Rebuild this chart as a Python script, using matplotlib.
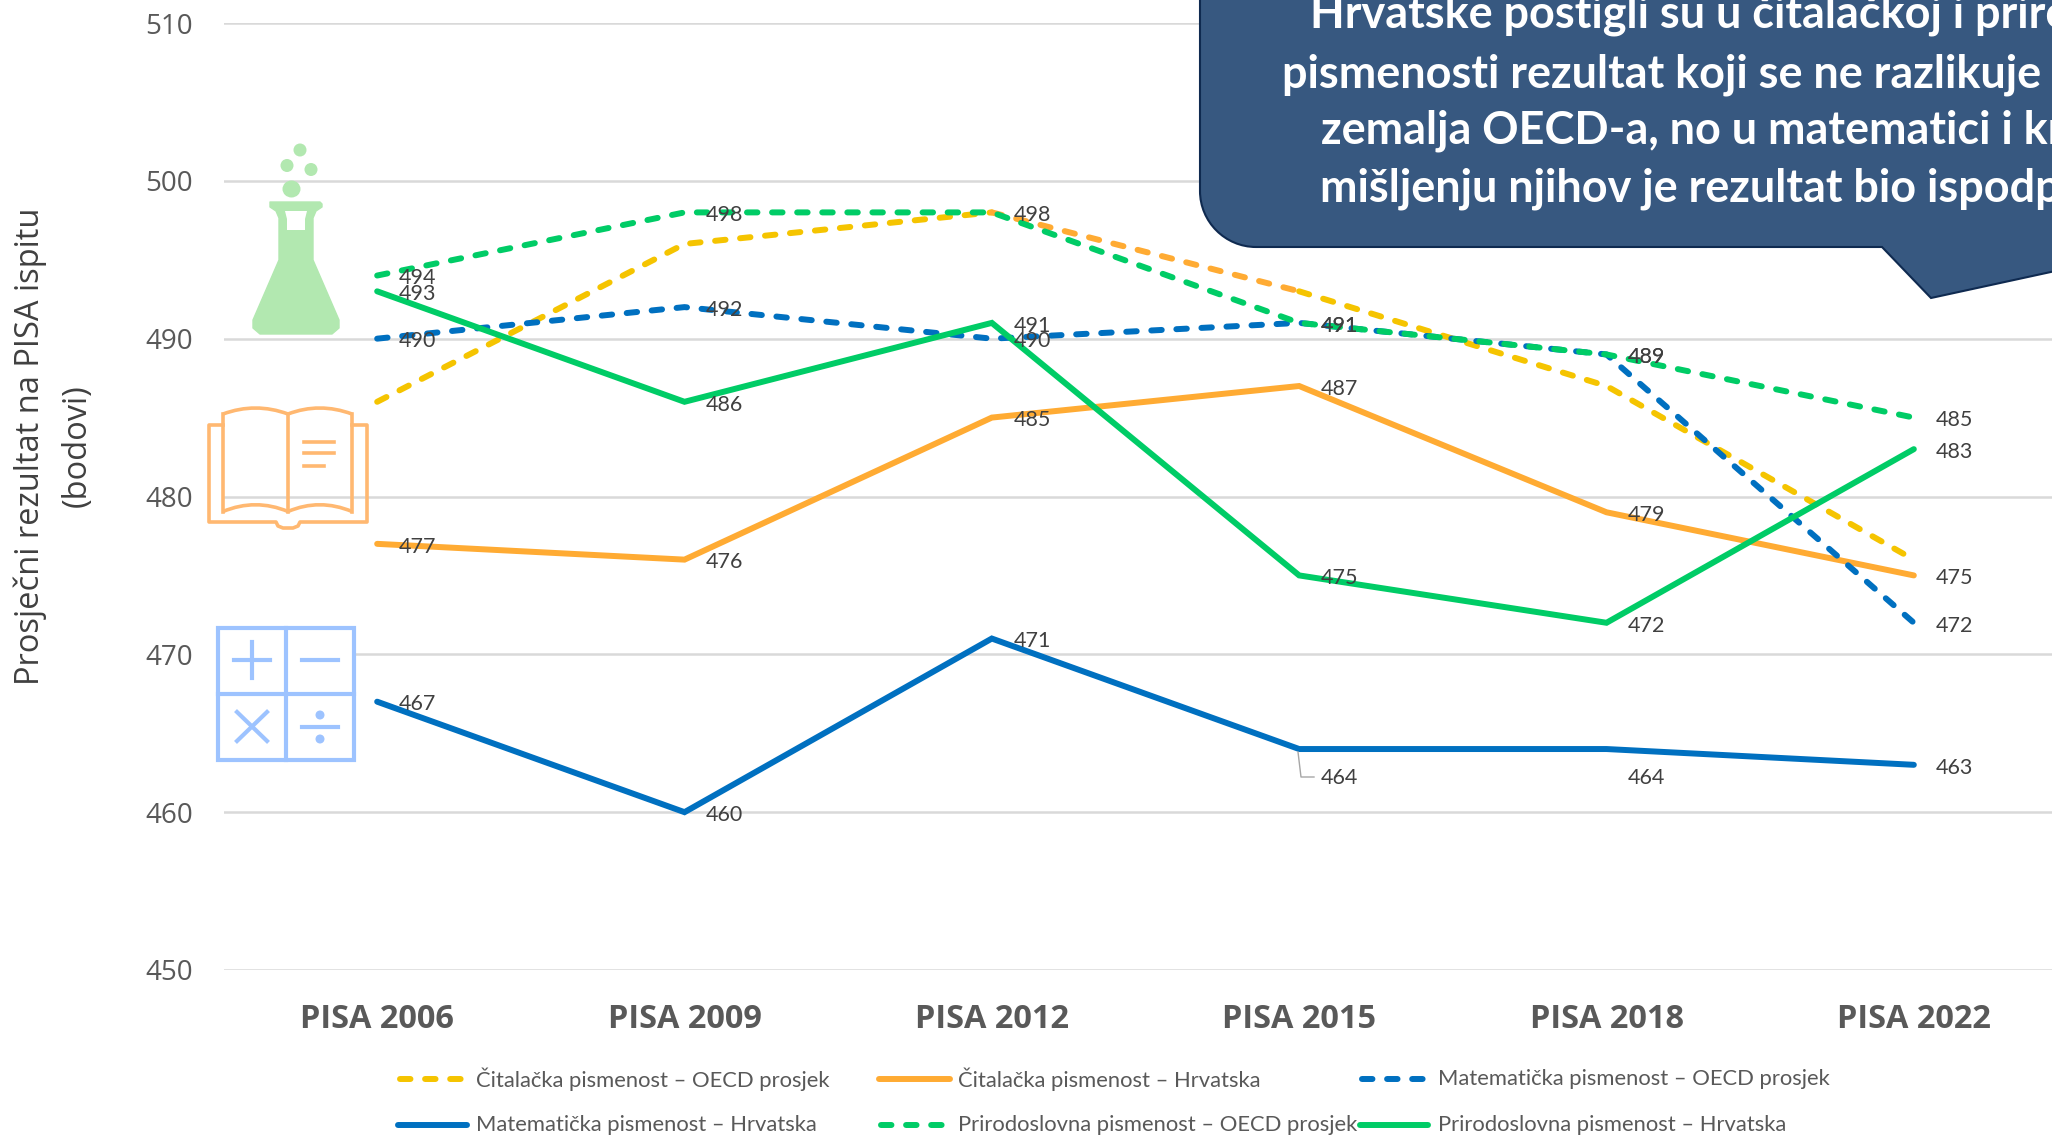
#!/usr/bin/env python3
import matplotlib
matplotlib.use("Agg")
import matplotlib.pyplot as plt
from matplotlib.lines import Line2D
from matplotlib.patches import Circle, Ellipse, PathPatch, Polygon, Rectangle
from matplotlib.path import Path

W, H = 2052, 1135
plt.rcParams["font.family"] = ["Open Sans", "DejaVu Sans"]

years = ["PISA 2006", "PISA 2009", "PISA 2012", "PISA 2015", "PISA 2018", "PISA 2022"]
y_ticks = [450, 460, 470, 480, 490, 500, 510]

citanje_oecd = [486, 496, 498, 493, 487, 476]
citanje_hr = [477, 476, 485, 487, 479, 475]
mat_oecd = [490, 492, 490, 491, 489, 472]
mat_hr = [467, 460, 471, 464, 464, 463]
prirodo_oecd = [494, 498, 498, 491, 489, 485]
prirodo_hr = [493, 486, 491, 475, 472, 483]

YELLOW = "#F5C400"
ORANGE = "#FFAB33"
BLUE = "#0070C0"
GREEN = "#00CC66"
GREY = "#595959"
DARK = "#404040"

# name, values, colour, dashed, show data labels
series = [
    ("Čitalačka pismenost – OECD prosjek", citanje_oecd, YELLOW, True, False),
    ("Čitalačka pismenost – Hrvatska", citanje_hr, ORANGE, False, True),
    ("Matematička pismenost – OECD prosjek", mat_oecd, BLUE, True, True),
    ("Matematička pismenost – Hrvatska", mat_hr, BLUE, False, True),
    ("Prirodoslovna pismenost – OECD prosjek", prirodo_oecd, GREEN, True, True),
    ("Prirodoslovna pismenost – Hrvatska", prirodo_hr, GREEN, False, True),
]

callout_lines = [
    "Hrvatske postigli su u čitalačkoj i prirodoslovnoj",
    "pismenosti rezultat koji se ne razlikuje od prosjeka",
    "zemalja OECD-a, no u matematici i kritičkom",
    "mišljenju njihov je rezultat bio ispodprosječan.",
]

LW = 4.3
DASH = (0, (1.75, 2.45))

fig = plt.figure(figsize=(W / 100, H / 100), dpi=100, facecolor="white")

# the plot runs on past the right edge of the picture
left, right, top, bottom = 223.5, 2067.5, 23, 970
ax = fig.add_axes([left / W, 1 - bottom / H, (right - left) / W, (bottom - top) / H])
ax.set_xlim(-0.5, 5.5)
ax.set_ylim(450, 510)
ax.set_yticks(y_ticks)
ax.set_xticks(range(len(years)))
ax.set_xticklabels(years, fontsize=23.4, fontweight="bold", color=GREY)
ax.tick_params(axis="both", length=0)
ax.tick_params(axis="x", pad=24)
ax.tick_params(axis="y", pad=22, labelsize=20, labelcolor=GREY)
ax.grid(axis="y", color="#D9D9D9", lw=1.8)
ax.set_axisbelow(True)
for s in ax.spines.values():
    s.set_visible(False)
ax.patch.set_alpha(0)

xs = list(range(len(years)))
for name, vals, col, dashed, labelled in series:
    if vals is citanje_oecd:
        # the 2012-2015 stretch of this line is orange in the source chart
        for a, b, c in [(0, 3, col), (2, 4, ORANGE), (3, 6, col)]:
            ax.plot(xs[a:b], vals[a:b], color=c, lw=LW, ls=DASH, dash_capstyle="round", zorder=3)
    elif dashed:
        ax.plot(xs, vals, color=col, lw=LW, ls=DASH, dash_capstyle="round", zorder=3)
    else:
        ax.plot(xs, vals, color=col, lw=LW, solid_capstyle="round", solid_joinstyle="miter", zorder=3)

for name, vals, col, dashed, labelled in series:
    if not labelled:
        continue
    for i, v in enumerate(vals):
        dy = -2
        if vals is mat_hr and years[i] in ("PISA 2015", "PISA 2018"):
            dy = -21
        ax.annotate(str(v), (i, v), xytext=(15.5, dy), textcoords="offset points",
                    va="center", ha="left", fontsize=15.5, color=DARK, family="Lato", zorder=6)

# overlay in picture pixels for callout, icons and legend
ov = fig.add_axes([0, 0, 1, 1])
ov.set_xlim(0, W)
ov.set_ylim(H, 0)
ov.axis("off")
ov.patch.set_alpha(0)

ov.plot([1298, 1301, 1314], [752, 777, 777], color="#A6A6A6", lw=1)

# y axis title
ov.text(30, 446, "Prosječni rezultat na PISA ispitu", rotation=90, ha="center", va="center",
        fontsize=23.5, color=DARK)
ov.text(77, 446, "(bodovi)", rotation=90, ha="center", va="center", fontsize=23.5, color=DARK)

# callout box
r = 56
verts = [(1200, -20), (1200, 247 - r), (1200, 247 - 0.45 * r), (1200 + 0.45 * r, 247), (1200 + r, 247),
         (1882, 247), (1931, 298), (2060, 270), (2060, -20), (1200, -20)]
codes = [Path.MOVETO, Path.LINETO, Path.CURVE4, Path.CURVE4, Path.CURVE4,
         Path.LINETO, Path.LINETO, Path.LINETO, Path.LINETO, Path.CLOSEPOLY]
ov.add_patch(PathPatch(Path(verts, codes), facecolor="#375880", edgecolor="#0F2A50", lw=1.5, zorder=7))
line_pos = [(1310, 28), (1282, 87), (1321, 144), (1320, 201)]
for txt, (tx, ty) in zip(callout_lines, line_pos):
    ov.text(tx, ty, txt, ha="left", va="baseline", fontsize=32.4, fontweight="bold",
            color="white", family="Lato", zorder=8)

# flask icon
FLASK = "#B2E8B0"
flask_pts = [(270, 202), (320, 202), (322, 204), (322, 207), (316, 211), (313, 218), (313, 260),
             (339, 320), (339, 328), (332, 334), (260, 334), (253, 328), (253, 320), (279, 260),
             (279, 218), (276, 211), (270, 207), (270, 204)]
ov.add_patch(Polygon(flask_pts, closed=True, facecolor=FLASK, edgecolor=FLASK, lw=1, joinstyle="round", zorder=4))
ov.add_patch(Polygon([(285, 211), (307, 211), (305, 219), (305, 230), (287, 230), (287, 219)],
                     closed=True, facecolor="white", edgecolor="none", zorder=5))
for cx, cy, rx, ry in [(291.5, 189, 9, 8.5), (287, 165.5, 6.5, 6.5), (311, 169.5, 6.5, 6.5), (300, 150, 6.5, 6.5)]:
    ov.add_patch(Ellipse((cx, cy), 2 * rx, 2 * ry, facecolor=FLASK, edgecolor="none", zorder=4))

# book icon
BOOK = "#FFB871"
blw = 2.6
ov.plot([223, 209, 209, 276, 278, 283, 293, 298, 300, 367, 367, 352],
        [425, 425, 522, 522, 526, 528, 528, 526, 522, 522, 425, 425],
        color=BOOK, lw=blw, solid_joinstyle="round", zorder=4)
for x0, x1, xm in [(223, 288, 255.5), (352, 288, 319.5)]:
    ov.add_patch(PathPatch(Path([(x0, 414), (xm, 402), (x1, 414)], [Path.MOVETO, Path.CURVE3, Path.CURVE3]),
                           fill=False, edgecolor=BOOK, lw=blw, zorder=4))
    ov.add_patch(PathPatch(Path([(x0, 511.5), (xm, 498), (x1, 511.5)], [Path.MOVETO, Path.CURVE3, Path.CURVE3]),
                           fill=False, edgecolor=BOOK, lw=blw, zorder=4))
for x in (223, 288, 352):
    ov.plot([x, x], [414, 511.5], color=BOOK, lw=blw, zorder=4)
ov.plot([304, 334], [441.5, 441.5], color=BOOK, lw=blw, zorder=4)
ov.plot([304, 334], [453, 453], color=BOOK, lw=blw, zorder=4)
ov.plot([304, 324], [465.5, 465.5], color=BOOK, lw=blw, zorder=4)

# calculator icon
CALC = "#9DC3FF"
clw = 3
ov.add_patch(Rectangle((218, 628), 136, 132, facecolor="white", edgecolor=CALC, lw=clw, zorder=4))
ov.plot([286, 286], [628, 760], color=CALC, lw=clw, zorder=5)
ov.plot([218, 354], [694, 694], color=CALC, lw=clw, zorder=5)
ov.plot([234, 270], [660, 660], color=CALC, lw=clw, zorder=5)
ov.plot([252, 252], [642, 678], color=CALC, lw=clw, zorder=5)
ov.plot([302, 338], [660, 660], color=CALC, lw=clw, zorder=5)
ov.plot([237, 267], [712, 741], color=CALC, lw=clw, zorder=5)
ov.plot([237, 267], [741, 712], color=CALC, lw=clw, zorder=5)
ov.plot([302, 338], [727, 727], color=CALC, lw=clw, zorder=5)
ov.add_patch(Circle((320, 715), 3.8, color=CALC, zorder=5))
ov.add_patch(Circle((320, 739), 3.8, color=CALC, zorder=5))

# legend, three columns and two rows
leg_x = [(400, 465, 476), (881, 948, 958), (1362, 1426, 1438)]
leg_y = [1079, 1125]
for k, (name, vals, col, dashed, labelled) in enumerate(series):
    x0, x1, tx = leg_x[k % 3]
    ly = leg_y[k // 3]
    if dashed:
        ov.add_line(Line2D([x0, x1], [ly, ly], color=col, lw=LW, ls=DASH, dash_capstyle="round"))
    else:
        ov.add_line(Line2D([x0 - 2, x1 + 2], [ly, ly], color=col, lw=LW, solid_capstyle="round"))
    ov.text(tx, ly, name, ha="left", va="center", fontsize=15.8, color=GREY, family="Lato")

fig.savefig("out.png", dpi=100)
